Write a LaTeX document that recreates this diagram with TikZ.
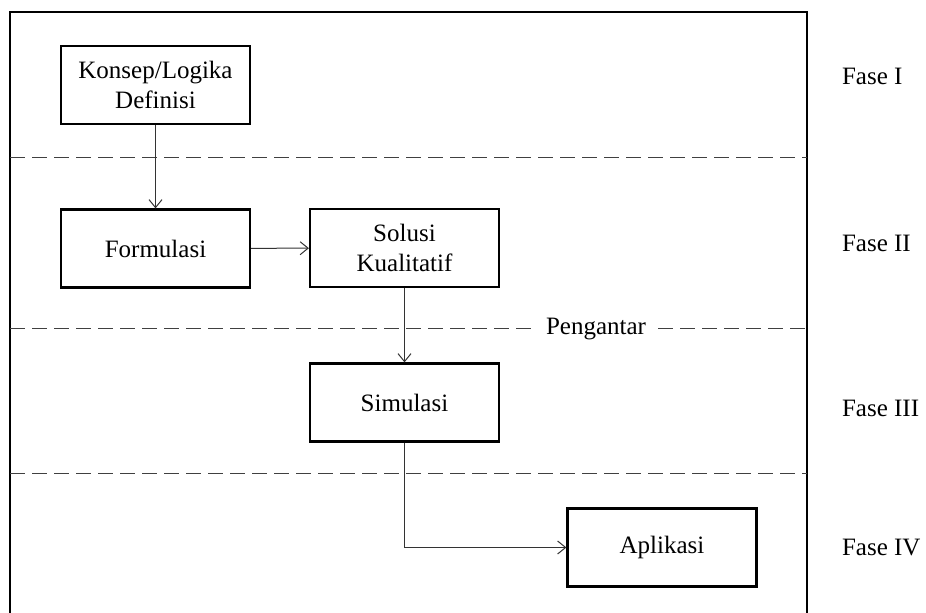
\documentclass[tikz,border=0pt]{standalone}
\usepackage{fontspec}
\setmainfont{Liberation Serif}
\usetikzlibrary{arrows.meta,positioning}

\begin{document}
\begin{tikzpicture}[
    x=0.5pt,y=-0.5pt,
    >={Straight Barb[length=4pt,width=6.5pt]},
    every node/.style={font=\fontsize{12.5}{15}\selectfont},
    box/.style={draw,line width=1.1pt,minimum width=94.5pt,minimum height=39pt,align=center,inner sep=0pt},
    sep/.style={densely dashed,dash pattern=on 7.5pt off 3.5pt,line width=0.5pt,black!75},
    link/.style={->,line width=0.5pt,black!80}
]
\useasboundingbox (0,0) rectangle (926,613);

% frame
\draw[line width=1.2pt] (10,613) -- (10,12) -- (807,12) -- (807,613);

% separators
\node[inner xsep=6pt] (pengantar) at (596,329) {Pengantar};
\draw[sep] (10,158) -- (807,158);
\draw[sep] (10,329) -- (pengantar.west);
\draw[sep] (pengantar.east) -- (807,329);
\draw[sep] (10,474) -- (807,474);

% boxes
\node[box] (konsep)    at (155.5,85)    {Konsep/Logika\\Definisi};
\node[box] (formulasi) at (155.5,248.5) {Formulasi};
\node[box] (solusi)    at (404.5,248)   {Solusi\\Kualitatif};
\node[box] (simulasi)  at (404.5,402.5) {Simulasi};
\node[box] (aplikasi)  at (662,547.5)   {Aplikasi};

% phase labels
\node[right] (fase1) at (835,76)  {Fase I};
\node[right] (fase2) at (835,243) {Fase II};
\node[right] (fase3) at (835,408) {Fase III};
\node[right] (fase4) at (835,548) {Fase IV};

% arrows
\draw[link] (konsep) -- (formulasi);
\draw[link] (formulasi) -- (solusi);
\draw[link] (solusi) -- (simulasi);
\draw[link] (simulasi.south) |- (aplikasi.west);

\end{tikzpicture}
\end{document}
